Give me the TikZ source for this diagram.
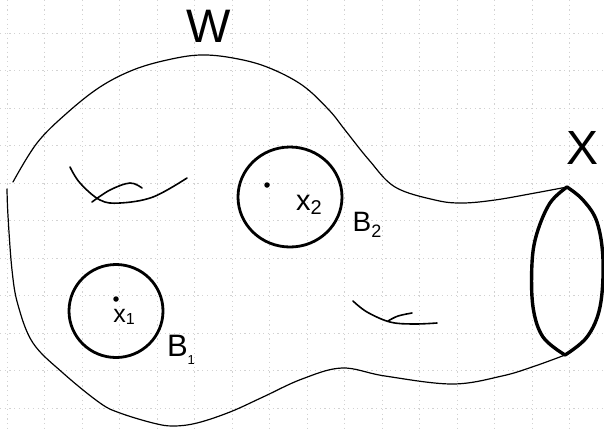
\documentclass[tikz,border=0pt]{standalone}
\usepackage{fontspec}
\setmainfont{Liberation Sans}
\begin{document}
\begin{tikzpicture}[x=1pt,y=-1pt,
  gridline/.style={draw=gray!35,line width=0.6pt,dash pattern=on 1.2pt off 3.5pt},
  outline/.style={draw=black,line width=1.2pt,line cap=round,line join=round},
  handle/.style={draw=black,line width=1.6pt,line cap=round},
  ball/.style={draw=black,line width=2.8pt},
  lens/.style={draw=black,line width=3.4pt,line cap=round},
  pt/.style={circle,fill=black,inner sep=0pt,minimum size=5.5pt},
  lbl/.style={inner sep=0pt,text=black}]
\useasboundingbox (0,0) rectangle (604,432);
\fill[white] (0,0) rectangle (604,432);
% graph paper
\foreach \i in {0,...,15} \draw[gridline] ({7.2+37.5*\i},0) -- ({7.2+37.5*\i},432);
\foreach \j in {0,...,10} \draw[gridline] (0,{33+37.5*\j}) -- (604,{33+37.5*\j});
% outer boundary of W
\draw[outline] plot[smooth,tension=0.6] coordinates {(13,182) (37,143) (67,113) (100,87) (133,70) (167,60) (200,55) (233,58) (267,67) (302,85) (329,110) (345,130) (369,160) (395,187) (435,200) (462,203) (495,200) (535,193) (567,187)};
\draw[outline] plot[smooth,tension=0.6] coordinates {(565,355) (535,366) (502,376) (452,384) (385,376) (342,368) (302,379) (263,397) (230,412) (197,423) (173,426) (153,423) (120,413) (100,403) (63,373) (33,343) (18,305) (12,270) (8,216) (7,189)};
% lens X
\draw[lens] plot[smooth,tension=0.6] coordinates {(567,187) (550,203) (537,233) (532,263) (533,307) (543,337) (565,355)};
\draw[lens] plot[smooth,tension=0.6] coordinates {(567,187) (583,200) (597,222) (603,260) (600,307) (587,337) (565,355)};
% handles
\draw[handle] plot[smooth,tension=0.6] coordinates {(70,167) (80,183) (100,200) (120,203) (153,197) (187,178)};
\draw[handle] plot[smooth,tension=0.6] coordinates {(92,202) (110,190) (130,183) (142,188)};
\draw[handle] plot[smooth,tension=0.6] coordinates {(353,301) (367,312) (390,322) (413,324) (437,323)};
\draw[handle] plot[smooth,tension=0.6] coordinates {(388,321) (398,316) (412,313)};
% balls
\draw[ball] (290,197) ellipse [x radius=52, y radius=50];
\draw[ball] (116,311) ellipse [x radius=47, y radius=46.5];
\node[pt] (p2) at (267,185) {};
\node[pt] (p1) at (116,299) {};
% labels
\node[lbl] (W) at (209,26) {\fontsize{47}{47}\selectfont W};
\node[lbl] (X) at (582,148) {\fontsize{48}{48}\selectfont X};
\node[lbl] (x2) at (309,205) {\fontsize{29}{29}\selectfont x\raisebox{-4pt}{\fontsize{20}{20}\selectfont 2}};
\node[lbl] (B2) at (367,225) {\fontsize{28}{28}\selectfont B\raisebox{-6pt}{\fontsize{18}{18}\selectfont 2}};
\node[lbl] (x1) at (124,317) {\fontsize{25}{25}\selectfont x\raisebox{-2pt}{\fontsize{16}{16}\selectfont 1}};
\node[lbl] (B1) at (181,350) {\fontsize{31}{31}\selectfont B\raisebox{-8pt}{\fontsize{13}{13}\selectfont 1}};
\end{tikzpicture}
\end{document}
